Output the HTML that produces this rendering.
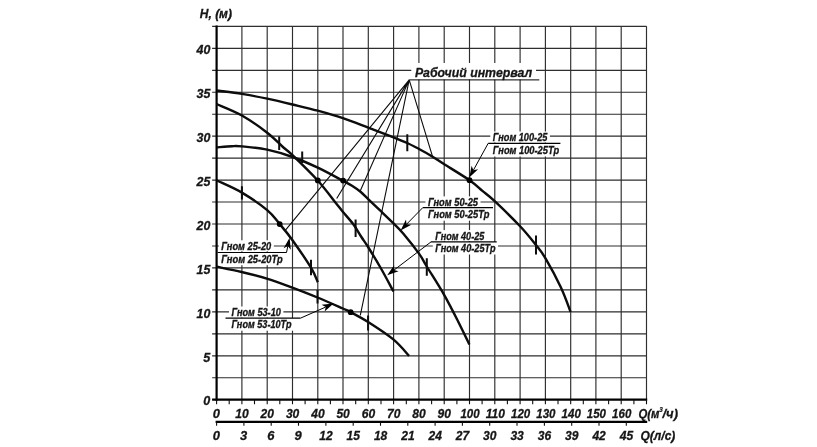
<!DOCTYPE html>
<html><head><meta charset="utf-8"><title>chart</title>
<style>html,body{margin:0;padding:0;background:#fff}body{width:817px;height:447px;overflow:hidden;font-family:"Liberation Sans",sans-serif}svg{display:block}</style></head>
<body>
<svg width="817" height="447" viewBox="0 0 817 447">
<defs><filter id="soft" x="0" y="0" width="817" height="447" filterUnits="userSpaceOnUse"><feGaussianBlur stdDeviation="0.3"/></filter></defs>
<rect width="817" height="447" fill="#fff"/>
<g filter="url(#soft)">
<rect width="817" height="447" fill="#fff"/>
<path d="M241.9 26.2V399.7M267.2 26.2V399.7M292.5 26.2V399.7M317.8 26.2V399.7M343.0 26.2V399.7M368.3 26.2V399.7M393.6 26.2V399.7M418.9 26.2V399.7M444.2 26.2V399.7M469.5 26.2V399.7M494.8 26.2V399.7M520.1 26.2V399.7M545.4 26.2V399.7M570.7 26.2V399.7M595.9 26.2V399.7M621.2 26.2V399.7M646.5 26.2V399.7M212.1 377.7H646.5M212.1 355.8H646.5M212.1 333.8H646.5M212.1 311.9H646.5M212.1 289.9H646.5M212.1 267.9H646.5M212.1 246.0H646.5M212.1 224.0H646.5M212.1 202.0H646.5M212.1 180.1H646.5M212.1 158.1H646.5M212.1 136.1H646.5M212.1 114.2H646.5M212.1 92.2H646.5M212.1 70.3H646.5M212.1 48.3H646.5M212.1 26.3H646.5" stroke="#2e2e2e" stroke-width="1.15" fill="none"/>
<rect x="490.3" y="131.5" width="59.6" height="11.0" fill="#fff"/>
<rect x="490.3" y="143.3" width="71.3" height="13.2" fill="#fff"/>
<rect x="425.5" y="196.4" width="55.0" height="11.0" fill="#fff"/>
<rect x="425.5" y="207.6" width="66.4" height="13.1" fill="#fff"/>
<rect x="432.8" y="230.1" width="54.0" height="11.0" fill="#fff"/>
<rect x="432.8" y="241.9" width="65.2" height="12.6" fill="#fff"/>
<rect x="218.8" y="240.3" width="55.0" height="11.0" fill="#fff"/>
<rect x="218.8" y="252.5" width="66.4" height="12.7" fill="#fff"/>
<rect x="229.0" y="306.5" width="54.4" height="11.0" fill="#fff"/>
<rect x="229.0" y="318.2" width="65.0" height="12.5" fill="#fff"/>
<rect x="411.3" y="63" width="124.7" height="16.5" fill="#fff"/>
<path d="M216.6 25.6V400.7" stroke="#000" stroke-width="2.2"/>
<path d="M212.1 399.7H647.2" stroke="#000" stroke-width="2.2"/>
<path d="M215.6 421.8H647.2" stroke="#000" stroke-width="2.2"/>
<path d="M216.6 399.7V404.3M229.2 399.7V404.3M241.9 399.7V404.3M254.5 399.7V404.3M267.2 399.7V404.3M279.8 399.7V404.3M292.5 399.7V404.3M305.1 399.7V404.3M317.8 399.7V404.3M330.4 399.7V404.3M343.0 399.7V404.3M355.7 399.7V404.3M368.3 399.7V404.3M381.0 399.7V404.3M393.6 399.7V404.3M406.3 399.7V404.3M418.9 399.7V404.3M431.6 399.7V404.3M444.2 399.7V404.3M456.9 399.7V404.3M469.5 399.7V404.3M482.1 399.7V404.3M494.8 399.7V404.3M507.4 399.7V404.3M520.1 399.7V404.3M532.7 399.7V404.3M545.4 399.7V404.3M558.0 399.7V404.3M570.7 399.7V404.3M583.3 399.7V404.3M595.9 399.7V404.3M608.6 399.7V404.3M621.2 399.7V404.3M633.9 399.7V404.3M646.5 399.7V404.3M216.6 421.8V425.8M243.9 421.8V425.8M271.2 421.8V425.8M298.5 421.8V425.8M325.9 421.8V425.8M353.2 421.8V425.8M380.5 421.8V425.8M407.8 421.8V425.8M435.1 421.8V425.8M462.4 421.8V425.8M489.7 421.8V425.8M517.0 421.8V425.8M544.4 421.8V425.8M571.7 421.8V425.8M599.0 421.8V425.8M626.3 421.8V425.8" stroke="#111" stroke-width="1.1" fill="none"/>
<path d="M409.2 79.9L432.4 156.2M409.2 79.9L285.5 230.2M409.2 79.9L336.7 198.5M409.2 79.9L360.2 191.0M409.2 79.9L360.3 315.4" stroke="#0c0c0c" stroke-width="1.1" fill="none"/>
<path d="M216.5 90.5 C220.7 91.1 233.5 92.5 241.9 93.9 C250.3 95.3 258.8 96.9 267.2 98.7 C275.6 100.5 284.0 102.5 292.4 104.5 C300.8 106.5 309.3 108.4 317.7 110.7 C326.1 113.0 334.5 115.4 342.9 118.2 C351.3 121.0 359.8 124.5 368.2 127.7 C376.6 130.9 387.1 134.8 393.6 137.3 C400.1 139.9 403.0 141.1 407.2 143.0 C411.4 144.9 414.8 146.8 419.0 149.0 C423.2 151.2 428.0 153.9 432.2 156.5 C436.4 159.1 438.1 160.4 444.3 164.3 C450.5 168.2 463.1 175.8 469.5 180.2 C475.9 184.6 478.2 187.4 482.4 190.9 C486.6 194.4 488.4 195.3 494.7 201.2 C501.0 207.1 513.2 219.0 520.1 226.3 C527.0 233.6 531.8 239.8 536.0 245.1 C540.2 250.4 541.4 251.4 545.5 258.4 C549.6 265.4 556.5 278.1 560.7 287.0 C564.9 295.9 569.0 307.8 570.6 311.9" stroke="#0a0a0a" stroke-width="2.4" fill="none"/>
<path d="M216.5 104.0 C220.7 105.9 233.5 110.7 241.9 115.5 C250.3 120.3 260.4 127.4 267.2 132.7 C274.0 137.9 278.7 143.2 282.9 147.0 C287.1 150.8 286.7 149.6 292.5 155.2 C298.3 160.8 310.6 172.7 317.7 180.5 C324.8 188.3 331.0 196.9 335.2 202.2 C339.4 207.4 339.9 208.3 343.0 212.0 C346.1 215.7 350.4 220.3 353.5 224.5 C356.6 228.7 358.9 233.2 361.4 237.0 C363.9 240.8 365.1 242.2 368.4 247.5 C371.7 252.8 376.8 261.2 381.0 268.5 C385.2 275.8 391.4 287.7 393.5 291.5" stroke="#0a0a0a" stroke-width="2.4" fill="none"/>
<path d="M216.5 147.4 C219.1 147.2 227.8 146.4 232.0 146.2 C236.2 146.0 236.0 145.8 241.9 146.4 C247.8 147.0 258.8 147.9 267.2 149.7 C275.6 151.5 284.1 154.0 292.5 157.0 C300.9 160.0 309.4 163.7 317.8 167.7 C326.2 171.7 337.3 177.8 343.0 180.8 C348.7 183.8 349.1 184.0 352.0 185.8 C354.9 187.6 357.8 189.6 360.5 191.8 C363.2 194.0 364.8 195.9 368.2 199.1 C371.6 202.3 376.7 207.2 380.9 211.2 C385.1 215.2 389.6 219.4 393.3 223.2 C397.1 226.9 399.1 228.6 403.4 233.7 C407.7 238.8 415.3 248.4 419.2 253.9 C423.1 259.4 422.7 259.7 426.8 266.5 C430.9 273.3 438.8 285.5 444.0 294.6 C449.2 303.7 453.8 312.9 458.0 321.2 C462.2 329.5 467.5 340.6 469.4 344.5" stroke="#0a0a0a" stroke-width="2.4" fill="none"/>
<path d="M216.5 180.3 C220.7 182.4 233.5 187.6 241.9 192.6 C250.3 197.6 260.9 204.8 267.2 210.1 C273.5 215.3 275.5 219.1 279.7 224.1 C283.9 229.1 287.3 232.9 292.5 240.2 C297.7 247.5 306.8 260.7 311.0 267.7 C315.2 274.7 316.7 279.8 317.8 282.2" stroke="#0a0a0a" stroke-width="2.4" fill="none"/>
<path d="M216.5 266.6 C220.7 267.5 233.2 270.0 241.6 272.0 C250.0 274.0 258.4 276.0 266.8 278.6 C275.2 281.2 283.9 284.5 292.3 287.6 C300.8 290.8 309.1 294.0 317.5 297.5 C325.9 301.0 337.4 306.1 342.9 308.5 C348.4 310.9 346.5 309.9 350.7 312.2 C354.9 314.4 361.0 317.5 368.1 322.0 C375.2 326.5 386.5 333.8 393.3 339.4 C400.1 345.0 406.5 353.1 409.1 355.9" stroke="#0a0a0a" stroke-width="2.4" fill="none"/>
<path d="M407.3 134.3V151.2M536.0 235.6V254.6M279.2 136.5V150.0M302.2 151.5V163.0M355.6 219.6V237.1M426.8 258.2V275.7M241.9 186.3V199.6M311.0 259.7V275.3M317.5 290.0V303.4M368.1 315.4V330.4" stroke="#0a0a0a" stroke-width="2" fill="none"/>
<circle cx="469.5" cy="180.2" r="2.9" fill="#000"/>
<circle cx="317.8" cy="180.4" r="2.9" fill="#000"/>
<circle cx="343.1" cy="180.6" r="2.9" fill="#000"/>
<circle cx="279.7" cy="224.1" r="2.9" fill="#000"/>
<circle cx="350.7" cy="312.2" r="2.9" fill="#000"/>
<path d="M488.2 143.3H560.4" stroke="#000" stroke-width="1.2"/>
<path d="M488.2 143.3L473.4 170.2" stroke="#000" stroke-width="1"/><path d="M469.3 177.6L471.6 165.7L473.4 170.2L478.1 169.3Z" fill="#000"/>
<text x="492.8" y="141.0" font-family="Liberation Sans, sans-serif" font-weight="bold" font-style="italic" font-size="10.0" fill="#141414" stroke="#141414" stroke-width="0.30" textLength="54.6" lengthAdjust="spacingAndGlyphs">Гном 100-25</text>
<text x="492.8" y="154.0" font-family="Liberation Sans, sans-serif" font-weight="bold" font-style="italic" font-size="10.0" fill="#141414" stroke="#141414" stroke-width="0.30" textLength="66.3" lengthAdjust="spacingAndGlyphs">Гном 100-25Тр</text>
<path d="M422.8 207.6H493.0" stroke="#000" stroke-width="1.2"/>
<path d="M422.8 207.6L406.5 224.3" stroke="#000" stroke-width="1"/><path d="M400.6 230.4L406.0 219.6L406.5 224.3L411.3 224.7Z" fill="#000"/>
<text x="428.0" y="205.9" font-family="Liberation Sans, sans-serif" font-weight="bold" font-style="italic" font-size="10.0" fill="#141414" stroke="#141414" stroke-width="0.30" textLength="50.0" lengthAdjust="spacingAndGlyphs">Гном 50-25</text>
<text x="428.0" y="218.2" font-family="Liberation Sans, sans-serif" font-weight="bold" font-style="italic" font-size="10.0" fill="#141414" stroke="#141414" stroke-width="0.30" textLength="61.4" lengthAdjust="spacingAndGlyphs">Гном 50-25Тр</text>
<path d="M431.0 241.9H496.7" stroke="#000" stroke-width="1.2"/>
<path d="M431.0 241.9L394.0 270.1" stroke="#000" stroke-width="1"/><path d="M387.2 275.2L394.1 265.3L394.0 270.1L398.6 271.2Z" fill="#000"/>
<text x="435.3" y="239.6" font-family="Liberation Sans, sans-serif" font-weight="bold" font-style="italic" font-size="10.0" fill="#141414" stroke="#141414" stroke-width="0.30" textLength="49.0" lengthAdjust="spacingAndGlyphs">Гном 40-25</text>
<text x="435.3" y="252.0" font-family="Liberation Sans, sans-serif" font-weight="bold" font-style="italic" font-size="10.0" fill="#141414" stroke="#141414" stroke-width="0.30" textLength="60.2" lengthAdjust="spacingAndGlyphs">Гном 40-25Тр</text>
<path d="M217.7 252.5H286.5" stroke="#000" stroke-width="1.2"/>
<path d="M286.5 252.5L287.8 246.1" stroke="#000" stroke-width="1"/><path d="M289.6 237.8L290.8 249.8L287.8 246.1L283.6 248.3Z" fill="#000"/>
<text x="221.3" y="249.8" font-family="Liberation Sans, sans-serif" font-weight="bold" font-style="italic" font-size="10.0" fill="#141414" stroke="#141414" stroke-width="0.30" textLength="50.0" lengthAdjust="spacingAndGlyphs">Гном 25-20</text>
<text x="221.3" y="262.7" font-family="Liberation Sans, sans-serif" font-weight="bold" font-style="italic" font-size="10.0" fill="#141414" stroke="#141414" stroke-width="0.30" textLength="61.4" lengthAdjust="spacingAndGlyphs">Гном 25-20Тр</text>
<path d="M225.5 318.2H300.4" stroke="#000" stroke-width="1.2"/>
<path d="M300.4 318.2L325.8 307.0" stroke="#000" stroke-width="1"/><path d="M333.6 303.6L324.6 311.6L325.8 307.0L321.6 304.8Z" fill="#000"/>
<text x="231.5" y="316.0" font-family="Liberation Sans, sans-serif" font-weight="bold" font-style="italic" font-size="10.0" fill="#141414" stroke="#141414" stroke-width="0.30" textLength="49.4" lengthAdjust="spacingAndGlyphs">Гном 53-10</text>
<text x="231.5" y="328.2" font-family="Liberation Sans, sans-serif" font-weight="bold" font-style="italic" font-size="10.0" fill="#141414" stroke="#141414" stroke-width="0.30" textLength="60.0" lengthAdjust="spacingAndGlyphs">Гном 53-10Тр</text>
<path d="M409.2 79.9H539.3" stroke="#000" stroke-width="1"/>
<text x="414.9" y="77.2" font-family="Liberation Sans, sans-serif" font-weight="bold" font-style="italic" font-size="13.6" fill="#141414" stroke="#141414" stroke-width="0.30" textLength="117.3" lengthAdjust="spacingAndGlyphs">Рабочий интервал</text>
<text x="199.8" y="18.2" font-family="Liberation Sans, sans-serif" font-weight="bold" font-style="italic" font-size="13.0" fill="#141414" stroke="#141414" stroke-width="0.30" textLength="32.2" lengthAdjust="spacingAndGlyphs">H, (м)</text>
<text x="203.3" y="405.4" font-family="Liberation Sans, sans-serif" font-weight="bold" font-style="italic" font-size="13.5" fill="#141414" stroke="#141414" stroke-width="0.30" textLength="7.0" lengthAdjust="spacingAndGlyphs">0</text>
<text x="203.3" y="361.5" font-family="Liberation Sans, sans-serif" font-weight="bold" font-style="italic" font-size="13.5" fill="#141414" stroke="#141414" stroke-width="0.30" textLength="7.0" lengthAdjust="spacingAndGlyphs">5</text>
<text x="196.5" y="317.6" font-family="Liberation Sans, sans-serif" font-weight="bold" font-style="italic" font-size="13.5" fill="#141414" stroke="#141414" stroke-width="0.30" textLength="13.8" lengthAdjust="spacingAndGlyphs">10</text>
<text x="196.5" y="273.6" font-family="Liberation Sans, sans-serif" font-weight="bold" font-style="italic" font-size="13.5" fill="#141414" stroke="#141414" stroke-width="0.30" textLength="13.8" lengthAdjust="spacingAndGlyphs">15</text>
<text x="196.5" y="229.7" font-family="Liberation Sans, sans-serif" font-weight="bold" font-style="italic" font-size="13.5" fill="#141414" stroke="#141414" stroke-width="0.30" textLength="13.8" lengthAdjust="spacingAndGlyphs">20</text>
<text x="196.5" y="185.8" font-family="Liberation Sans, sans-serif" font-weight="bold" font-style="italic" font-size="13.5" fill="#141414" stroke="#141414" stroke-width="0.30" textLength="13.8" lengthAdjust="spacingAndGlyphs">25</text>
<text x="196.5" y="141.8" font-family="Liberation Sans, sans-serif" font-weight="bold" font-style="italic" font-size="13.5" fill="#141414" stroke="#141414" stroke-width="0.30" textLength="13.8" lengthAdjust="spacingAndGlyphs">30</text>
<text x="196.5" y="97.9" font-family="Liberation Sans, sans-serif" font-weight="bold" font-style="italic" font-size="13.5" fill="#141414" stroke="#141414" stroke-width="0.30" textLength="13.8" lengthAdjust="spacingAndGlyphs">35</text>
<text x="196.5" y="54.0" font-family="Liberation Sans, sans-serif" font-weight="bold" font-style="italic" font-size="13.5" fill="#141414" stroke="#141414" stroke-width="0.30" textLength="13.8" lengthAdjust="spacingAndGlyphs">40</text>
<text x="212.7" y="417.9" font-family="Liberation Sans, sans-serif" font-weight="bold" font-style="italic" font-size="13.5" fill="#141414" stroke="#141414" stroke-width="0.30" textLength="7.2" lengthAdjust="spacingAndGlyphs">0</text>
<text x="235.3" y="417.9" font-family="Liberation Sans, sans-serif" font-weight="bold" font-style="italic" font-size="13.5" fill="#141414" stroke="#141414" stroke-width="0.30" textLength="13.4" lengthAdjust="spacingAndGlyphs">10</text>
<text x="260.6" y="417.9" font-family="Liberation Sans, sans-serif" font-weight="bold" font-style="italic" font-size="13.5" fill="#141414" stroke="#141414" stroke-width="0.30" textLength="13.4" lengthAdjust="spacingAndGlyphs">20</text>
<text x="285.9" y="417.9" font-family="Liberation Sans, sans-serif" font-weight="bold" font-style="italic" font-size="13.5" fill="#141414" stroke="#141414" stroke-width="0.30" textLength="13.4" lengthAdjust="spacingAndGlyphs">30</text>
<text x="311.2" y="417.9" font-family="Liberation Sans, sans-serif" font-weight="bold" font-style="italic" font-size="13.5" fill="#141414" stroke="#141414" stroke-width="0.30" textLength="13.4" lengthAdjust="spacingAndGlyphs">40</text>
<text x="336.4" y="417.9" font-family="Liberation Sans, sans-serif" font-weight="bold" font-style="italic" font-size="13.5" fill="#141414" stroke="#141414" stroke-width="0.30" textLength="13.4" lengthAdjust="spacingAndGlyphs">50</text>
<text x="361.7" y="417.9" font-family="Liberation Sans, sans-serif" font-weight="bold" font-style="italic" font-size="13.5" fill="#141414" stroke="#141414" stroke-width="0.30" textLength="13.4" lengthAdjust="spacingAndGlyphs">60</text>
<text x="387.0" y="417.9" font-family="Liberation Sans, sans-serif" font-weight="bold" font-style="italic" font-size="13.5" fill="#141414" stroke="#141414" stroke-width="0.30" textLength="13.4" lengthAdjust="spacingAndGlyphs">70</text>
<text x="412.3" y="417.9" font-family="Liberation Sans, sans-serif" font-weight="bold" font-style="italic" font-size="13.5" fill="#141414" stroke="#141414" stroke-width="0.30" textLength="13.4" lengthAdjust="spacingAndGlyphs">80</text>
<text x="437.6" y="417.9" font-family="Liberation Sans, sans-serif" font-weight="bold" font-style="italic" font-size="13.5" fill="#141414" stroke="#141414" stroke-width="0.30" textLength="13.4" lengthAdjust="spacingAndGlyphs">90</text>
<text x="460.4" y="417.9" font-family="Liberation Sans, sans-serif" font-weight="bold" font-style="italic" font-size="13.5" fill="#141414" stroke="#141414" stroke-width="0.30" textLength="19.2" lengthAdjust="spacingAndGlyphs">100</text>
<text x="485.7" y="417.9" font-family="Liberation Sans, sans-serif" font-weight="bold" font-style="italic" font-size="13.5" fill="#141414" stroke="#141414" stroke-width="0.30" textLength="19.2" lengthAdjust="spacingAndGlyphs">110</text>
<text x="511.0" y="417.9" font-family="Liberation Sans, sans-serif" font-weight="bold" font-style="italic" font-size="13.5" fill="#141414" stroke="#141414" stroke-width="0.30" textLength="19.2" lengthAdjust="spacingAndGlyphs">120</text>
<text x="536.3" y="417.9" font-family="Liberation Sans, sans-serif" font-weight="bold" font-style="italic" font-size="13.5" fill="#141414" stroke="#141414" stroke-width="0.30" textLength="19.2" lengthAdjust="spacingAndGlyphs">130</text>
<text x="561.6" y="417.9" font-family="Liberation Sans, sans-serif" font-weight="bold" font-style="italic" font-size="13.5" fill="#141414" stroke="#141414" stroke-width="0.30" textLength="19.2" lengthAdjust="spacingAndGlyphs">140</text>
<text x="586.8" y="417.9" font-family="Liberation Sans, sans-serif" font-weight="bold" font-style="italic" font-size="13.5" fill="#141414" stroke="#141414" stroke-width="0.30" textLength="19.2" lengthAdjust="spacingAndGlyphs">150</text>
<text x="612.1" y="417.9" font-family="Liberation Sans, sans-serif" font-weight="bold" font-style="italic" font-size="13.5" fill="#141414" stroke="#141414" stroke-width="0.30" textLength="19.2" lengthAdjust="spacingAndGlyphs">160</text>
<text x="212.7" y="440.3" font-family="Liberation Sans, sans-serif" font-weight="bold" font-style="italic" font-size="13.5" fill="#141414" stroke="#141414" stroke-width="0.30" textLength="7.2" lengthAdjust="spacingAndGlyphs">0</text>
<text x="240.0" y="440.3" font-family="Liberation Sans, sans-serif" font-weight="bold" font-style="italic" font-size="13.5" fill="#141414" stroke="#141414" stroke-width="0.30" textLength="7.2" lengthAdjust="spacingAndGlyphs">3</text>
<text x="267.3" y="440.3" font-family="Liberation Sans, sans-serif" font-weight="bold" font-style="italic" font-size="13.5" fill="#141414" stroke="#141414" stroke-width="0.30" textLength="7.2" lengthAdjust="spacingAndGlyphs">6</text>
<text x="294.6" y="440.3" font-family="Liberation Sans, sans-serif" font-weight="bold" font-style="italic" font-size="13.5" fill="#141414" stroke="#141414" stroke-width="0.30" textLength="7.2" lengthAdjust="spacingAndGlyphs">9</text>
<text x="319.3" y="440.3" font-family="Liberation Sans, sans-serif" font-weight="bold" font-style="italic" font-size="13.5" fill="#141414" stroke="#141414" stroke-width="0.30" textLength="13.4" lengthAdjust="spacingAndGlyphs">12</text>
<text x="346.6" y="440.3" font-family="Liberation Sans, sans-serif" font-weight="bold" font-style="italic" font-size="13.5" fill="#141414" stroke="#141414" stroke-width="0.30" textLength="13.4" lengthAdjust="spacingAndGlyphs">15</text>
<text x="373.9" y="440.3" font-family="Liberation Sans, sans-serif" font-weight="bold" font-style="italic" font-size="13.5" fill="#141414" stroke="#141414" stroke-width="0.30" textLength="13.4" lengthAdjust="spacingAndGlyphs">18</text>
<text x="401.2" y="440.3" font-family="Liberation Sans, sans-serif" font-weight="bold" font-style="italic" font-size="13.5" fill="#141414" stroke="#141414" stroke-width="0.30" textLength="13.4" lengthAdjust="spacingAndGlyphs">21</text>
<text x="428.5" y="440.3" font-family="Liberation Sans, sans-serif" font-weight="bold" font-style="italic" font-size="13.5" fill="#141414" stroke="#141414" stroke-width="0.30" textLength="13.4" lengthAdjust="spacingAndGlyphs">24</text>
<text x="455.8" y="440.3" font-family="Liberation Sans, sans-serif" font-weight="bold" font-style="italic" font-size="13.5" fill="#141414" stroke="#141414" stroke-width="0.30" textLength="13.4" lengthAdjust="spacingAndGlyphs">27</text>
<text x="483.1" y="440.3" font-family="Liberation Sans, sans-serif" font-weight="bold" font-style="italic" font-size="13.5" fill="#141414" stroke="#141414" stroke-width="0.30" textLength="13.4" lengthAdjust="spacingAndGlyphs">30</text>
<text x="510.4" y="440.3" font-family="Liberation Sans, sans-serif" font-weight="bold" font-style="italic" font-size="13.5" fill="#141414" stroke="#141414" stroke-width="0.30" textLength="13.4" lengthAdjust="spacingAndGlyphs">33</text>
<text x="537.8" y="440.3" font-family="Liberation Sans, sans-serif" font-weight="bold" font-style="italic" font-size="13.5" fill="#141414" stroke="#141414" stroke-width="0.30" textLength="13.4" lengthAdjust="spacingAndGlyphs">36</text>
<text x="565.1" y="440.3" font-family="Liberation Sans, sans-serif" font-weight="bold" font-style="italic" font-size="13.5" fill="#141414" stroke="#141414" stroke-width="0.30" textLength="13.4" lengthAdjust="spacingAndGlyphs">39</text>
<text x="592.4" y="440.3" font-family="Liberation Sans, sans-serif" font-weight="bold" font-style="italic" font-size="13.5" fill="#141414" stroke="#141414" stroke-width="0.30" textLength="13.4" lengthAdjust="spacingAndGlyphs">42</text>
<text x="619.7" y="440.3" font-family="Liberation Sans, sans-serif" font-weight="bold" font-style="italic" font-size="13.5" fill="#141414" stroke="#141414" stroke-width="0.30" textLength="13.4" lengthAdjust="spacingAndGlyphs">45</text>
<text x="638.5" y="417.9" font-family="Liberation Sans, sans-serif" font-weight="bold" font-style="italic" font-size="13.5" fill="#141414" stroke="#141414" stroke-width="0.30" textLength="21.0" lengthAdjust="spacingAndGlyphs">Q(м</text>
<text x="659.3" y="412.3" font-family="Liberation Sans, sans-serif" font-weight="bold" font-style="italic" font-size="7.5" fill="#141414" stroke="#141414" stroke-width="0.20" textLength="3.5" lengthAdjust="spacingAndGlyphs">3</text>
<text x="662.5" y="417.9" font-family="Liberation Sans, sans-serif" font-weight="bold" font-style="italic" font-size="13.5" fill="#141414" stroke="#141414" stroke-width="0.30" textLength="15.5" lengthAdjust="spacingAndGlyphs">/ч)</text>
<text x="640.5" y="440.3" font-family="Liberation Sans, sans-serif" font-weight="bold" font-style="italic" font-size="13.5" fill="#141414" stroke="#141414" stroke-width="0.30" textLength="34.8" lengthAdjust="spacingAndGlyphs">Q(л/с)</text>
</g>
</svg>
</body></html>
